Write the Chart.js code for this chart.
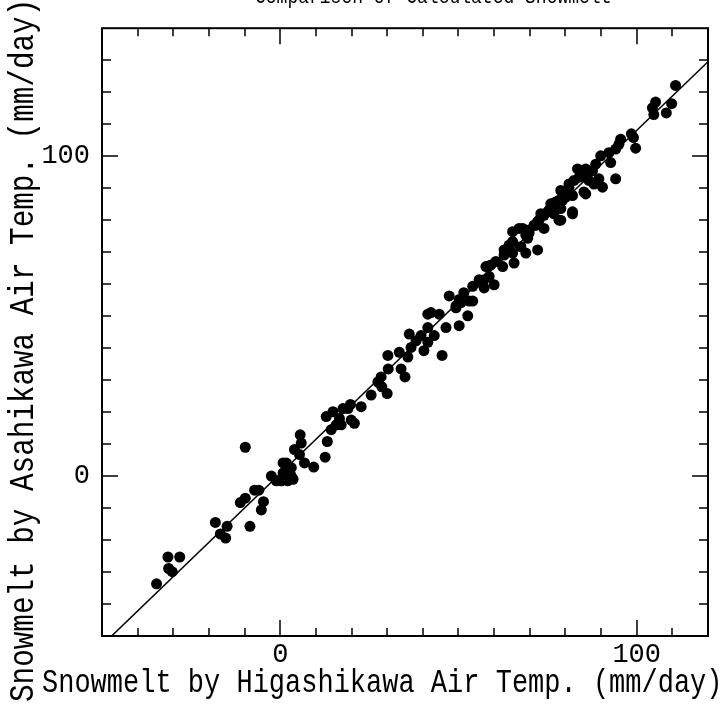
<!DOCTYPE html>
<html>
<head>
<meta charset="utf-8">
<title>Comparison of Calculated Snowmelt</title>
<script src="https://cdn.jsdelivr.net/npm/chart.js@4.4.1/dist/chart.umd.min.js"></script>
<style>
  html, body { margin: 0; padding: 0; background: #fff; }
  #wrap { width: 728px; height: 709px; }
</style>
</head>
<body>
<div id="wrap"><canvas id="snowChart" width="728" height="709"></canvas></div>
<script>
(function () {
    'use strict';

    // Snowmelt (mm/day) computed from each station's air temperature, one entry per day
    var higashikawa = [
        -34.7, -31.5, -28.2, -31.3, -30.3, -18.2, -14.9, -16.8, -15.3, -8.5,
        -9.8, -11.2, -9.8, -7.2, -6.0, -4.7, -5.3, -2.5, -1.1, 0.3,
        0.8, 0.8, 1.7, 2.6, 3.1, 3.6, 2.1, 1.7, 3.1, 4.0,
        5.6, 5.9, 5.4, 6.8, 9.4, 12.6, 13.2, 12.9, 14.8, 15.7,
        14.3, 16.6, 17.1, 17.6, 19.9, 20.8, 19.7, 19.0, 22.7, 25.5,
        27.4, 28.5, 30.0, 28.3, 30.3, 30.2, 33.9, 35.0, 33.4, 35.8,
        36.7, 36.2, 38.1, 39.5, 40.3, 41.4, 41.4, 41.4, 43.2, 45.4,
        44.6, 42.3, 46.5, 47.4, 49.3, 50.2, 50.7, 51.5, 52.6, 54.0,
        54.0, 56.3, 57.2, 57.2, 58.6, 60.0, 58.2, 59.1, 60.5, 62.4,
        65.6, 62.8, 62.8, 64.2, 65.2, 65.2, 67.5, 68.9, 72.2, 65.2,
        67.0, 68.9, 69.8, 71.2, 72.2, 74.0, 73.1, 75.0, 75.9, 76.8,
        78.2, 78.7, 77.3, 79.2, 78.7, 80.1, 81.5, 82.0, 81.0, 82.4,
        83.4, 83.8, 85.2, 85.7, 85.7, 86.6, 87.6, 88.5, 89.9, 89.4,
        88.0, 90.4, 92.2, 92.7, 94.1, 94.1, 95.0, 95.5, 98.5, 99.1,
        99.7, 104.4, 105.3, 104.8, 108.3, 109.8, 110.9, 82.0, 78.7, 76.4,
        75.4, 74.0, 76.8, 72.6, 71.7, 69.8, 68.0, 69.4, 82.0, 80.1,
        78.2, 81.0, 85.2, 50.2, 53.0, 49.3, 55.8, 57.7
    ];
    var asahikawa = [
        -33.7, -25.3, -25.3, -28.9, -29.9, -14.5, -15.7, -18.1, -19.4, -15.7,
        9.0, -8.3, -6.9, -4.4, -4.4, -8.0, -10.6, 0.0, -1.5, -1.5,
        1.0, 4.1, 4.1, 0.0, 2.6, -1.0, -1.5, 1.0, 0.0, 8.3,
        12.9, 10.3, 6.7, 4.1, 2.8, 5.9, 10.8, 18.6, 20.1, 16.0,
        14.5, 18.0, 16.0, 21.1, 17.5, 16.5, 22.4, 21.1, 21.7, 25.3,
        29.4, 27.9, 25.8, 31.0, 33.5, 37.7, 33.5, 31.0, 38.7, 37.2,
        40.2, 44.4, 42.3, 43.9, 39.2, 41.8, 46.4, 50.6, 43.9, 37.7,
        50.6, 51.1, 46.4, 56.3, 52.6, 47.0, 54.2, 57.3, 50.1, 54.7,
        59.3, 60.4, 58.8, 61.4, 62.4, 59.8, 65.5, 66.0, 67.1, 65.5,
        66.6, 69.1, 70.7, 72.2, 73.3, 69.7, 71.7, 69.7, 70.7, 76.4,
        77.4, 75.3, 76.9, 78.4, 79.5, 77.4, 82.0, 82.6, 85.1, 83.1,
        80.0, 83.6, 85.7, 86.2, 89.3, 88.8, 88.2, 82.6, 91.3, 92.4,
        96.0, 93.4, 93.9, 88.2, 96.0, 92.4, 95.4, 97.5, 100.1, 92.9,
        91.3, 90.3, 101.1, 98.0, 92.9, 102.2, 103.7, 105.3, 107.0, 105.8,
        102.5, 115.1, 116.9, 113.0, 113.5, 116.4, 122.1, 82.0, 80.0, 85.1,
        83.1, 81.5, 82.0, 80.0, 78.4, 75.9, 77.4, 74.3, 87.7, 87.2,
        86.2, 90.3, 88.8, 55.2, 54.7, 53.2, 61.4, 65.5
    ];

    // fitted line, read at the two ends of the x range
    var fitX = [-50, 120];
    var fitY = [-52.9, 129.5];

    var xRange = [-50, 120];
    var yRange = [-50, 140];
    var tickStep = 10;
    var labelTicks = [0, 100];

    var titleText = 'Comparison of Calculated Snowmelt';
    var xTitle = 'Snowmelt by Higashikawa Air Temp. (mm/day)';
    var yTitle = 'Snowmelt by Asahikawa Air Temp. (mm/day)';

    var FONT = "'Liberation Mono', 'DejaVu Sans Mono', monospace";

    var points = [];
    for (var i = 0; i < higashikawa.length; i++) {
        points.push({ x: higashikawa[i], y: asahikawa[i] });
    }
    var fitPts = [];
    for (var j = 0; j < fitX.length; j++) {
        fitPts.push({ x: fitX[j], y: fitY[j] });
    }

    // box round the plot, with minor ticks pointing inwards on all four sides
    var framePlugin = {
        id: 'frame',
        afterDatasetsDraw: function (chart) {
            var ctx = chart.ctx, a = chart.chartArea;
            var xs = chart.scales.x, ys = chart.scales.y;
            var v, p, len;
            ctx.save();
            ctx.strokeStyle = '#000';
            ctx.lineWidth = 2;
            ctx.strokeRect(a.left, a.top, a.right - a.left, a.bottom - a.top);
            ctx.lineWidth = 1.5;
            ctx.beginPath();
            for (v = xRange[0] + tickStep; v < xRange[1]; v += tickStep) {
                p = Math.round(xs.getPixelForValue(v));
                len = labelTicks.indexOf(v) >= 0 ? 16 : 8;
                ctx.moveTo(p, a.bottom); ctx.lineTo(p, a.bottom - len);
                ctx.moveTo(p, a.top); ctx.lineTo(p, a.top + len);
            }
            for (v = yRange[0] + tickStep; v < yRange[1]; v += tickStep) {
                p = Math.round(ys.getPixelForValue(v));
                len = labelTicks.indexOf(v) >= 0 ? 16 : 9;
                ctx.moveTo(a.left, p); ctx.lineTo(a.left + len, p);
                ctx.moveTo(a.right, p); ctx.lineTo(a.right - len, p);
            }
            ctx.stroke();
            ctx.restore();
        }
    };

    // tall narrow lettering like the plotter font
    function tallText(ctx, text, x, y, size, rotate) {
        ctx.save();
        ctx.translate(x, y);
        if (rotate) ctx.rotate(-Math.PI / 2);
        ctx.scale(1, 1.2);
        ctx.font = size + 'px ' + FONT;
        ctx.fillStyle = '#000';
        ctx.textAlign = 'left';
        ctx.textBaseline = 'alphabetic';
        ctx.fillText(text, 0, 0);
        ctx.restore();
    }

    var textPlugin = {
        id: 'texts',
        afterDraw: function (chart) {
            var ctx = chart.ctx;
            tallText(ctx, titleText, 255, 3, 18, false);
            tallText(ctx, xTitle, 42, 692, 27, false);
            tallText(ctx, yTitle, 33, 702, 29.3, true);
        }
    };

    function tickLabel(v) {
        return labelTicks.indexOf(v) >= 0 ? String(v) : '';
    }

    new Chart(document.getElementById('snowChart'), {
        type: 'scatter',
        data: {
            datasets: [{
                type: 'line',
                data: fitPts,
                borderColor: '#000',
                borderWidth: 1.5,
                pointRadius: 0,
                fill: false,
                order: 1
            }, {
                data: points,
                backgroundColor: '#000',
                borderWidth: 0,
                pointRadius: 5.5,
                order: 0
            }]
        },
        options: {
            responsive: false,
            animation: false,
            layout: { padding: { top: 23, right: 20, left: 0, bottom: 0 } },
            plugins: {
                legend: { display: false },
                tooltip: { enabled: false }
            },
            scales: {
                x: {
                    type: 'linear',
                    min: xRange[0],
                    max: xRange[1],
                    grid: { display: false, drawTicks: false },
                    border: { display: false },
                    ticks: {
                        stepSize: tickStep,
                        autoSkip: false,
                        maxRotation: 0,
                        padding: 3,
                        color: '#000',
                        font: { family: FONT, size: 27 },
                        callback: tickLabel
                    },
                    afterFit: function (s) { s.height = 73; }
                },
                y: {
                    type: 'linear',
                    min: yRange[0],
                    max: yRange[1],
                    grid: { display: false, drawTicks: false },
                    border: { display: false },
                    ticks: {
                        stepSize: tickStep,
                        autoSkip: false,
                        padding: 12,
                        color: '#000',
                        font: { family: FONT, size: 27 },
                        callback: tickLabel
                    },
                    afterFit: function (s) { s.width = 102; }
                }
            }
        },
        plugins: [framePlugin, textPlugin]
    });
}());
</script>
</body>
</html>
